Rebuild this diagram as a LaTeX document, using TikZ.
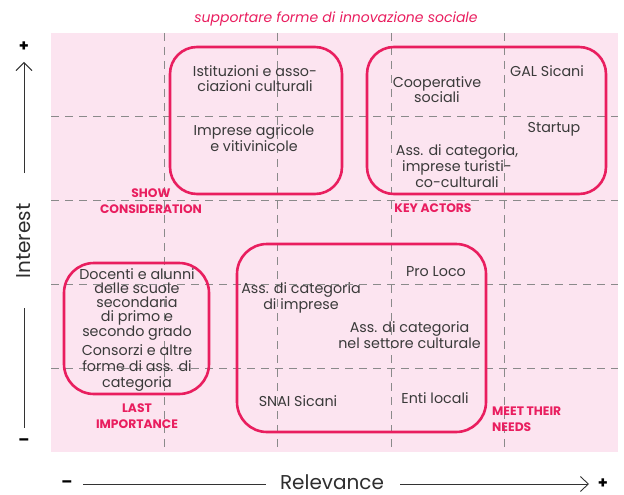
\documentclass[tikz,border=0pt]{standalone}
\usepackage{fontspec}
\setmainfont{Poppins}
\usetikzlibrary{arrows.meta}
\definecolor{bgpink}{HTML}{FCE4F0}
\definecolor{boxpink}{HTML}{E91E5F}
\definecolor{txtgray}{HTML}{3A3A3A}
\definecolor{gridgray}{HTML}{8A8A8A}
\tikzset{
  grid line/.style={draw=gridgray, line width=1.1pt, dash pattern=on 8pt off 6pt},
  group box/.style={draw=boxpink, line width=2.6pt, rounded corners=27pt, inner sep=0pt},
  txt/.style={text=txtgray, align=center, inner sep=0pt, font=\fontsize{14.3}{15.5}\selectfont},
  tag/.style={text=boxpink, inner sep=0pt, font=\fontsize{12.3}{16}\selectfont\bfseries},
  axis lbl/.style={text=txtgray!80!black, inner sep=0pt, font=\fontsize{20}{22}\selectfont},
  sign/.style={text=black, inner sep=0pt, font=\fontsize{16}{18}\selectfont\bfseries},
  axis line/.style={draw=black!80, line width=0.9pt},
}
\begin{document}
\begin{tikzpicture}[x=1pt,y=-1pt]
\useasboundingbox (0,0) rectangle (624,495);
% background
\fill[bgpink] (51,33) rectangle (618,452);
% grid
\foreach \gx in {164.4,277.8,391.2,504.6} \draw[grid line] (\gx,33) -- (\gx,452);
\foreach \gy in {116.8,200.6,284.4,368.2} \draw[grid line] (51,\gy) -- (618,\gy);
% title
\node[text=boxpink, inner sep=0pt, font=\fontsize{14}{16}\selectfont\itshape] (title) at (336,19) {supportare forme di innovazione sociale};
% boxes
\node[group box, minimum width=172pt, minimum height=147pt] (b1) at (256,120.5) {};
\node[group box, minimum width=239pt, minimum height=147pt] (b2) at (486.5,120.5) {};
\node[group box, minimum width=145pt, minimum height=131pt, rounded corners=30pt] (b3) at (136.5,328.5) {};
\node[group box, minimum width=249pt, minimum height=188pt, rounded corners=30pt] (b4) at (361.5,338) {};
% box 1 texts
\node[txt] (t1) at (255,78.5) {Istituzioni e asso-\\ciazioni culturali};
\node[txt] (t2) at (254,138) {Imprese agricole\\e vitivinicole};
% box 2 texts
\node[txt] (t3) at (437,89.5) {Cooperative\\sociali};
\node[txt] (t4) at (547,71) {GAL Sicani};
\node[txt] (t5) at (554,129) {Startup};
\node[txt, font=\fontsize{14.3}{16}\selectfont] (t6) at (457,166) {Ass. di categoria,\\imprese turisti-\\co-culturali};
% box 3 texts
\node[txt, font=\fontsize{14.3}{13.8}\selectfont] (t7) at (137,304.5) {Docenti e alunni\\delle scuole\\secondaria\\di primo e\\secondo grado};
\node[txt, font=\fontsize{14.3}{16}\selectfont] (t8) at (137,368) {Consorzi e altre\\forme di ass. di\\categoria};
% box 4 texts
\node[txt] (t9) at (436,272) {Pro Loco};
\node[txt] (t10) at (301,298) {Ass. di categoria\\di imprese};
\node[txt] (t11) at (409.5,335) {Ass. di categoria\\nel settore culturale};
\node[txt] (t12) at (298,401) {SNAI Sicani};
\node[txt] (t13) at (435,398) {Enti locali};
% tags
\node[tag, align=center] (g1) at (151,201.5) {SHOW\\CONSIDERATION};
\node[tag] (g2) at (433,208) {KEY ACTORS};
\node[tag, align=center] (g3) at (137,416) {LAST\\IMPORTANCE};
\node[tag, align=left, anchor=west] (g4) at (492,419) {MEET THEIR\\NEEDS};
% vertical axis
\node[sign] (yplus) at (24,47) {+};
\coordinate (yup) at (24,62);
\coordinate (ylow) at (24,173);
\draw[axis line, -{Straight Barb[length=8pt,width=16pt]}] (ylow) -- (yup);
\node[axis lbl, rotate=90] (ylbl) at (24,241) {Interest};
\coordinate (ya) at (24,308);
\coordinate (yb) at (24,428);
\draw[axis line] (ya) -- (yb);
\node[sign] (yminus) at (24,442) {–};
% horizontal axis
\node[sign] (xminus) at (67,484) {–};
\coordinate (xa) at (83,484);
\coordinate (xb) at (266,484);
\draw[axis line] (xa) -- (xb);
\node[axis lbl] (xlbl) at (332,482) {Relevance};
\coordinate (xc) at (400,484);
\coordinate (xd) at (589,484);
\draw[axis line, -{Straight Barb[length=8pt,width=15pt]}] (xc) -- (xd);
\node[sign] (xplus) at (603,484) {+};
\end{tikzpicture}
\end{document}
